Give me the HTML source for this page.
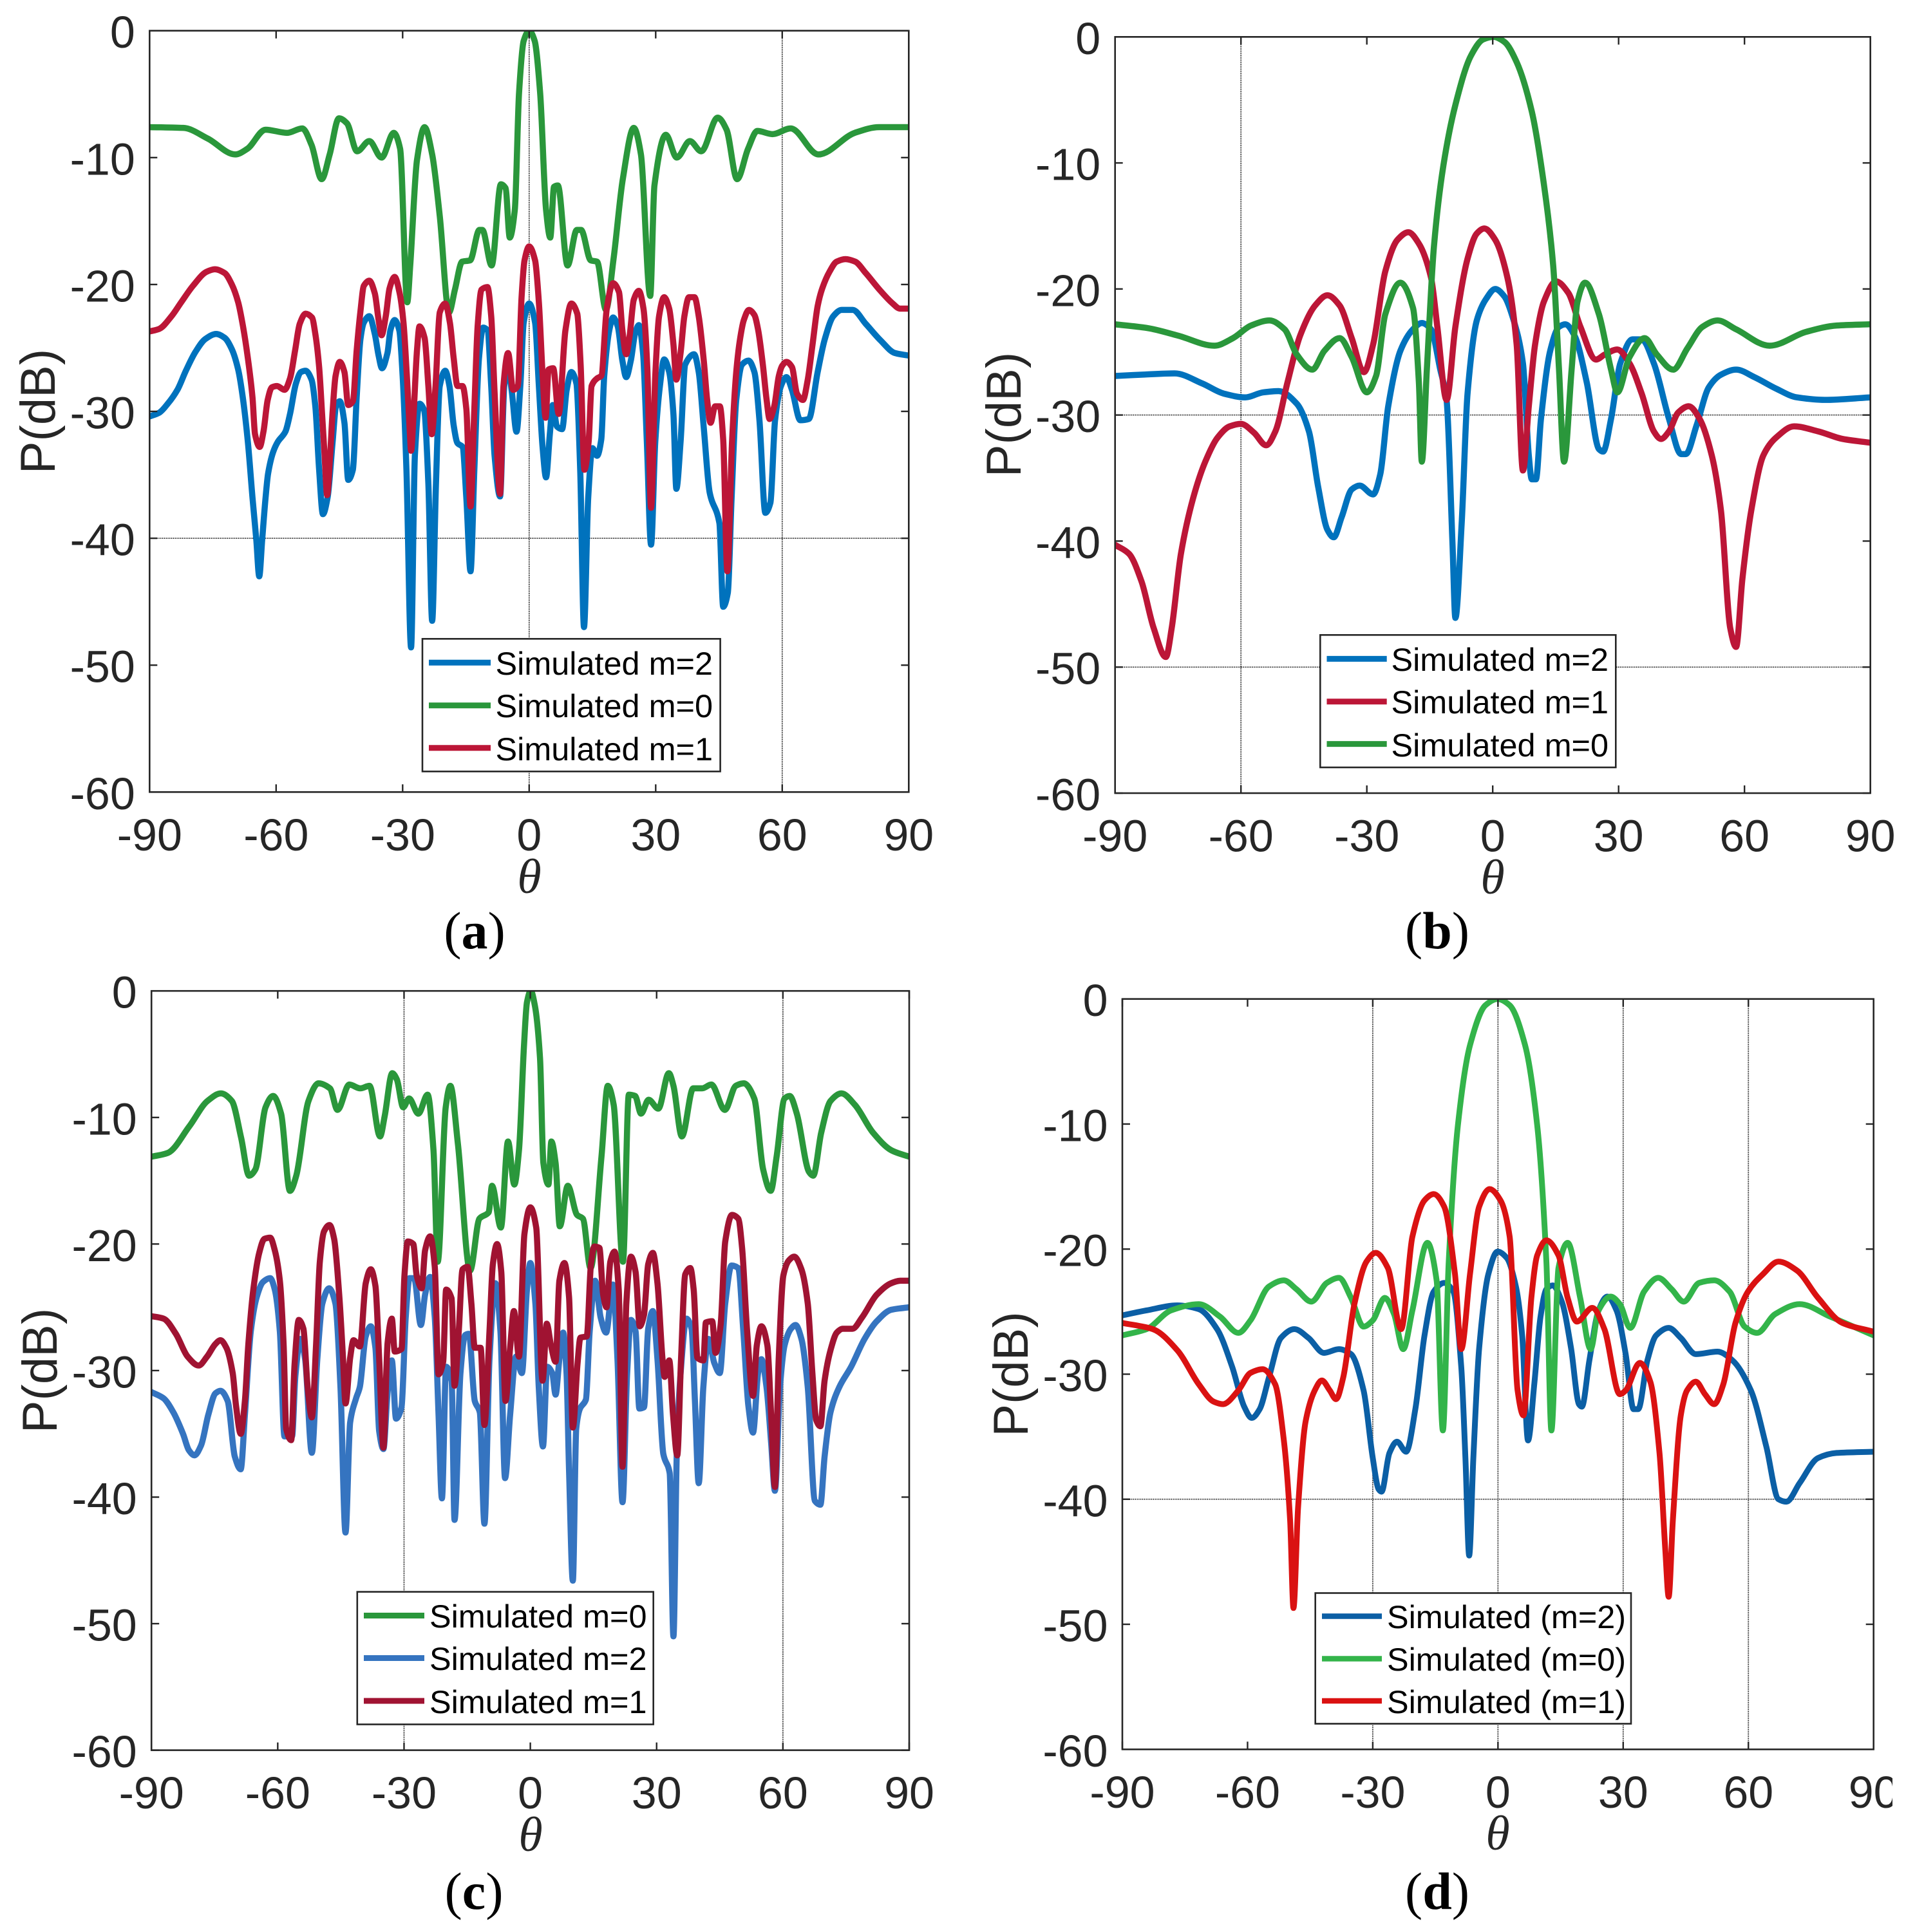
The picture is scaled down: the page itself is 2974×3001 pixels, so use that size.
<!DOCTYPE html>
<html lang="en">
<head>
<meta charset="utf-8">
<title>Radiation patterns (a)–(d)</title>
<style>
html,body{margin:0;padding:0;background:#fff;}
svg{display:block;}
.tick{font-family:"Liberation Sans",Arial,sans-serif;font-size:70px;fill:#262626;}
.ylab{font-family:"Liberation Sans",Arial,sans-serif;font-size:76px;fill:#262626;}
.xlab{font-family:"Liberation Serif",serif;font-style:italic;font-size:76px;fill:#262626;}
.cap{font-family:"Liberation Serif",serif;font-size:82px;fill:#000;}
.cap tspan{font-weight:bold;}
.leg{font-family:"Liberation Sans",Arial,sans-serif;font-size:50.4px;fill:#000;}
.frame{fill:none;stroke:#262626;stroke-width:2.6;}
.lbox{fill:#fff;stroke:#262626;stroke-width:2.6;}
.s{fill:none;stroke-width:9.5;stroke-linejoin:round;stroke-linecap:round;}
#panel-d .s{stroke-width:9;}
</style>
</head>
<body>
<svg id="figure" xmlns="http://www.w3.org/2000/svg" width="2974" height="3001" viewBox="0 0 2974 3001">
<rect x="0" y="0" width="2974" height="3001" fill="#fff"/>
<defs>
<clipPath id="clip-a"><rect x="232.3" y="47.7" width="1179" height="1182.6"/></clipPath>
<clipPath id="clip-b"><rect x="1731.7" y="57.3" width="1173" height="1174.7"/></clipPath>
<clipPath id="clip-c"><rect x="235.2" y="1539.2" width="1176.8" height="1179.4"/></clipPath>
<clipPath id="clip-d"><rect x="1743" y="1551.7" width="1166.7" height="1165.6"/></clipPath>
</defs>

<g id="panel-a">
  <g id="grid-a"></g>
  <g clip-path="url(#clip-a)">
    <path id="line-a2" class="s" stroke="#0072BD"/>
    <path id="line-a0" class="s" stroke="#2A973B"/>
    <path id="line-a1" class="s" stroke="#BC1637"/>
  </g>
  <g id="ticks-a"></g>
  <rect class="frame" x="232.3" y="47.7" width="1179" height="1182.6"/>
  <text class="ylab" transform="translate(85 639) rotate(-90)" text-anchor="middle">P(dB)</text>
  <text class="xlab" x="822" y="1387" text-anchor="middle">θ</text>
  <text class="cap" x="737" y="1473" text-anchor="middle">(<tspan>a</tspan>)</text>
  <g>
    <rect class="lbox" x="656" y="992.3" width="462.6" height="206"/>
    <line x1="666" x2="762" y1="1029.3" y2="1029.3" stroke="#0072BD" stroke-width="9"/>
    <text class="leg" x="769.5" y="1048">Simulated m=2</text>
    <line x1="666" x2="762" y1="1095.7" y2="1095.7" stroke="#2A973B" stroke-width="9"/>
    <text class="leg" x="769.5" y="1114">Simulated m=0</text>
    <line x1="666" x2="762" y1="1161.7" y2="1161.7" stroke="#BC1637" stroke-width="9"/>
    <text class="leg" x="769.5" y="1181">Simulated m=1</text>
  </g>
</g>

<g id="panel-b">
  <g id="grid-b"></g>
  <g clip-path="url(#clip-b)">
    <path id="line-b2" class="s" stroke="#0072BD"/>
    <path id="line-b1" class="s" stroke="#BC1637"/>
    <path id="line-b0" class="s" stroke="#2A973B"/>
  </g>
  <g id="ticks-b"></g>
  <rect class="frame" x="1731.7" y="57.3" width="1173" height="1174.7"/>
  <text class="ylab" transform="translate(1585 644) rotate(-90)" text-anchor="middle">P(dB)</text>
  <text class="xlab" x="2318" y="1388" text-anchor="middle">θ</text>
  <text class="cap" x="2232" y="1473" text-anchor="middle">(<tspan>b</tspan>)</text>
  <g>
    <rect class="lbox" x="2050.3" y="986.3" width="459" height="205.7"/>
    <line x1="2060.5" x2="2153.7" y1="1023.4" y2="1023.4" stroke="#0072BD" stroke-width="9"/>
    <text class="leg" x="2160.5" y="1042">Simulated m=2</text>
    <line x1="2060.5" x2="2153.7" y1="1089.8" y2="1089.8" stroke="#BC1637" stroke-width="9"/>
    <text class="leg" x="2160.5" y="1108">Simulated m=1</text>
    <line x1="2060.5" x2="2153.7" y1="1155.6" y2="1155.6" stroke="#2A973B" stroke-width="9"/>
    <text class="leg" x="2160.5" y="1175">Simulated m=0</text>
  </g>
</g>

<g id="panel-c">
  <g id="grid-c"></g>
  <g clip-path="url(#clip-c)">
    <path id="line-c0" class="s" stroke="#2A973B"/>
    <path id="line-c2" class="s" stroke="#3574C0"/>
    <path id="line-c1" class="s" stroke="#A01332"/>
  </g>
  <g id="ticks-c"></g>
  <rect class="frame" x="235.2" y="1539.2" width="1176.8" height="1179.4"/>
  <text class="ylab" transform="translate(88 2129) rotate(-90)" text-anchor="middle">P(dB)</text>
  <text class="xlab" x="824" y="2875" text-anchor="middle">θ</text>
  <text class="cap" x="736" y="2965" text-anchor="middle">(<tspan>c</tspan>)</text>
  <g>
    <rect class="lbox" x="554.8" y="2472.6" width="459.9" height="205.9"/>
    <line x1="565" x2="659" y1="2509.5" y2="2509.5" stroke="#2A973B" stroke-width="9"/>
    <text class="leg" x="667" y="2528">Simulated m=0</text>
    <line x1="565" x2="659" y1="2575.5" y2="2575.5" stroke="#3574C0" stroke-width="9"/>
    <text class="leg" x="667" y="2594">Simulated m=2</text>
    <line x1="565" x2="659" y1="2642" y2="2642" stroke="#A01332" stroke-width="9"/>
    <text class="leg" x="667" y="2661">Simulated m=1</text>
  </g>
</g>

<g id="panel-d">
  <g id="grid-d"></g>
  <g clip-path="url(#clip-d)">
    <path id="line-d2" class="s" stroke="#0B5FA5"/>
    <path id="line-d0" class="s" stroke="#33B44A"/>
    <path id="line-d1" class="s" stroke="#DA1212"/>
  </g>
  <g id="ticks-d"></g>
  <rect class="frame" x="1743" y="1551.7" width="1166.7" height="1165.6"/>
  <text class="ylab" transform="translate(1596 2134.5) rotate(-90)" text-anchor="middle">P(dB)</text>
  <text class="xlab" x="2326" y="2873" text-anchor="middle">θ</text>
  <text class="cap" x="2232" y="2965" text-anchor="middle">(<tspan>d</tspan>)</text>
  <g>
    <rect class="lbox" x="2042.7" y="2474.5" width="490.3" height="203"/>
    <line x1="2053" x2="2146" y1="2510.5" y2="2510.5" stroke="#0B5FA5" stroke-width="8.5"/>
    <text class="leg" x="2154" y="2529">Simulated (m=2)</text>
    <line x1="2053" x2="2146" y1="2576.5" y2="2576.5" stroke="#33B44A" stroke-width="8.5"/>
    <text class="leg" x="2154" y="2595">Simulated (m=0)</text>
    <line x1="2053" x2="2146" y1="2642" y2="2642" stroke="#DA1212" stroke-width="8.5"/>
    <text class="leg" x="2154" y="2661">Simulated (m=1)</text>
  </g>
</g>
<rect id="crop-mask" x="2939" y="2740" width="35" height="261" fill="#fff"/>
</svg>

<script>
// ---- shared tick labels ----
const xTicks = [-90, -60, -30, 0, 30, 60, 90];
const yTicks = [0, -10, -20, -30, -40, -50, -60];

// ---- panel (a) ----
const thetaA2 = [-90,-87.7,-85.7,-83.4,-81.4,-79.1,-76.8,-74.2,-72.2,-70.5,-69,-67.9,-66.7,-65.6,-64.7,-64,-63.3,-62.5,-61.9,-60.7,-59.6,-57.8,-56.7,-55.3,-54.1,-53,-51.6,-50.7,-49.8,-48.9,-47.8,-46.6,-45.8,-44.9,-43.8,-42.9,-41.8,-40.9,-40,-39.2,-37.9,-36.6,-35.7,-34.9,-33.6,-32.9,-31.9,-30.8,-30,-29.1,-28,-27.1,-26,-24.9,-23.9,-23,-22.1,-21.2,-19.9,-18.9,-17.9,-17,-15.8,-14.9,-13.9,-13,-11.9,-10.9,-9.9,-9,-8.2,-6.9,-5.9,-5,-4.1,-3,-2.1,-1.3,0,1.4,2.3,3.2,4,4.9,5.6,6.6,7.8,8.9,10,11.2,12.1,13,14,15,16.1,17.1,17.8,19,19.9,21,22.1,23,24.1,25.1,26,27,27.9,28.9,29.9,31,32,33.2,34.2,34.9,35.9,37,39.1,40.2,41.4,42.8,45.1,46,47.1,48,49.1,50.5,52,53.4,54.6,56,57.2,58.3,59.7,61,62.3,64.3,66.3,68.4,70.1,72.1,74.1,76.7,79.8,83.3,86.7,90];
const powerA2 = [-30.4,-30.1,-29.4,-28.3,-26.8,-25.3,-24.3,-23.9,-24.2,-25.1,-26.7,-28.9,-32.4,-36.8,-40.1,-43,-40.1,-36.8,-34.9,-33.2,-32.4,-31.6,-30.2,-27.8,-26.9,-26.8,-27.5,-29.6,-34.6,-38.1,-36.8,-32.4,-29.6,-29.2,-30.9,-35.4,-34.6,-28.9,-24.3,-23,-22.5,-23.9,-25.6,-26.6,-25.4,-23.6,-22.8,-23.6,-27.2,-34.6,-48.6,-33.5,-29.4,-29.9,-35.7,-46.5,-35.7,-28,-26.8,-28,-31.1,-32.5,-32.8,-36.8,-42.6,-34.6,-25.8,-23.4,-23.6,-28,-33.5,-36.7,-28,-26.5,-28.5,-31.6,-28,-23,-21.5,-23,-28,-32.9,-35.2,-31.8,-29.5,-31.2,-31.4,-28.3,-26.9,-27.8,-34.6,-47,-36.8,-32.9,-33.5,-32.2,-27.2,-23.6,-22.6,-23.3,-26,-27.3,-26,-23.9,-23.2,-25.4,-32.4,-40.5,-32.4,-28,-25.9,-26.9,-30.2,-36.1,-32.4,-26.3,-25.5,-26.9,-31.3,-36.4,-38.8,-45.4,-44.3,-36.8,-29.1,-26.3,-26,-26.9,-30.7,-38,-37.2,-30.7,-28,-27.3,-28.3,-30.7,-30.6,-26.9,-24.3,-22.5,-22,-22,-23.1,-24.4,-25.4,-25.6];
const thetaA0 = [-90,-82,-76.2,-69.7,-66.8,-62.5,-57.4,-53.8,-51.6,-49.2,-47.3,-45.1,-43.2,-40.8,-37.9,-35,-32.1,-30.6,-28.9,-28.2,-26.6,-24.8,-23,-21.2,-19,-17.6,-15.9,-14,-11.8,-11.1,-8.9,-6.7,-5.6,-4.6,-3.4,-2.4,-1.3,0,1.3,2.6,4,5,5.9,6.8,9.1,11.3,12.3,14.6,16.1,18.2,20,22.2,24.8,26.5,28.7,29.7,32.4,35,38.1,40.8,44.7,46.8,49.3,51.9,54.1,57.7,62,68.6,77.2,83,90];
const powerA0 = [-7.6,-7.66,-8.5,-9.75,-9.3,-7.8,-8.05,-7.7,-9,-11.7,-9.75,-6.9,-7.3,-9.5,-8.7,-10,-8.05,-9.3,-21.4,-18.5,-10.2,-7.6,-9.75,-14.6,-22.2,-20.4,-18.2,-18.1,-15.7,-15.7,-18.5,-12.1,-12.4,-16.3,-14.1,-4.9,-0.8,0,-0.8,-4.9,-14.1,-16.3,-12.3,-12.2,-18.5,-15.7,-15.7,-18.1,-18.2,-22,-18,-11.7,-7.66,-9.75,-20.9,-12.2,-8.2,-10,-8.7,-9.5,-6.85,-7.8,-11.7,-9.3,-7.9,-8.15,-7.7,-9.75,-8.05,-7.6,-7.6];
const thetaA1 = [-90,-87.7,-84.8,-82.5,-79.7,-76.5,-74.5,-72.2,-70.5,-69,-67.9,-66.7,-65.6,-65,-63.9,-63,-62,-61,-59.8,-58,-56.7,-55.5,-54.4,-53,-51.5,-50.7,-49.8,-49.1,-48.5,-47.9,-47.2,-46.6,-45.9,-44.9,-43.8,-42.9,-41.8,-40.9,-40,-39.2,-37.9,-36.6,-35.7,-35,-34,-33.1,-31.9,-30.7,-29.8,-29,-28.3,-28,-27.4,-26.6,-26,-24.8,-23.9,-23.1,-22.2,-21.2,-19.9,-18.8,-17.9,-17,-15.8,-14.9,-13.9,-13,-12.2,-11.3,-9.9,-9,-8.2,-6.9,-6.1,-5,-3.8,-2.7,-1.8,-1.1,0,1.4,2.3,3.2,3.9,4.6,5.7,7,8.6,10,11.4,12.2,13.1,14.1,14.8,16.1,17.1,18.4,19.9,21.3,22.1,23,23.8,24.8,26,27.1,28,28.9,29.9,30.8,32,33.2,34.2,34.9,35.9,36.8,37.9,39.2,40.2,41.4,42.2,43,44.1,45.2,46,47,48.1,49.1,50,50.9,52.1,53.4,54.3,55.4,56.3,57,58.1,59.2,60,61,62.3,63.5,64.9,66,67.2,68.4,69.5,71.2,72.9,75,77.3,79.8,83.3,86.2,87.9,90];
const powerA1 = [-23.7,-23.5,-22.5,-21.4,-20.1,-19,-18.8,-19.1,-20,-21.4,-23.2,-25.8,-28.9,-31.8,-32.8,-31.6,-29.1,-28.1,-28,-28.3,-27.4,-25.2,-23.1,-22.3,-22.6,-23.9,-26.5,-30.2,-33.5,-36.6,-33.5,-30,-27.2,-26.1,-26.9,-29.5,-29.2,-25.2,-22.1,-20.1,-19.7,-20.7,-22.8,-24,-22.5,-20.3,-19.4,-20.7,-23,-27.2,-31.6,-33.1,-30.2,-25.2,-23.3,-24.2,-28,-31.8,-28,-22.2,-21.5,-23,-25.8,-28,-28,-29.8,-37.5,-29.8,-23.2,-20.4,-20.2,-22.5,-28.5,-36.5,-28,-25.4,-28.3,-28,-21,-18.1,-17,-18.1,-21.4,-27.2,-30.5,-26.7,-26.6,-30.2,-23.6,-21.5,-22.3,-26.3,-34.6,-32.4,-28,-27.4,-27.2,-21.9,-19.9,-20.6,-23.6,-25.5,-24.1,-21.2,-20.5,-21.9,-26.5,-37.6,-27.2,-22.5,-21,-21.9,-24.7,-27.5,-25.4,-22.5,-21,-21,-22.5,-26,-29.1,-30.9,-29.6,-29.6,-32.2,-42.6,-32.4,-26.9,-24.3,-22.8,-22,-22.4,-23.6,-26.3,-29.1,-30.6,-29.6,-27.2,-26.4,-26.1,-26.5,-28.6,-29.1,-27.6,-24.7,-21.7,-20.3,-19,-18.2,-18,-18.2,-19.1,-20.5,-21.5,-21.9,-21.9];

// ---- panel (b) ----
const thetaB2 = [-90,-83.7,-75.8,-69.2,-64.1,-59,-54.7,-51,-46.7,-43.8,-41.6,-39.4,-37.9,-36,-33.6,-31.7,-28.5,-26.8,-24.9,-22,-19,-16.9,-14.7,-12.5,-11,-9.6,-8.9,-7.4,-6,-3.8,-1.6,0.6,2.8,5,7.2,8.6,9.3,10.3,11.5,13.7,15.8,17.3,19.5,22.4,25.3,26.3,28.2,30.4,33.3,35.5,38.4,42,44.9,46,48.6,51.5,54.4,58,62.4,67.5,72.5,79.1,90];
const powerB2 = [-26.9,-26.8,-26.7,-27.5,-28.3,-28.6,-28.2,-28.1,-29.1,-31.3,-35.7,-39.1,-39.7,-38.1,-35.9,-35.6,-36.3,-34.7,-29.3,-24.9,-23.2,-22.7,-23.2,-26.4,-28.8,-40.1,-46.1,-38.6,-28.3,-22.5,-20.8,-20,-20.6,-22.5,-25.9,-33.2,-35.1,-35.1,-30.3,-24.9,-23,-22.8,-23.7,-27.4,-32.7,-32.9,-30.3,-25.9,-24,-24,-25.9,-30.3,-33.1,-33.1,-30.8,-27.8,-26.8,-26.4,-27,-27.9,-28.6,-28.8,-28.6];
const thetaB1 = [-90,-86.7,-83.7,-80.8,-77.9,-76.5,-74.3,-71.4,-68.5,-65.6,-62.7,-60,-56.9,-54,-51.8,-48.9,-45.9,-42.3,-39.4,-36.5,-33.6,-30.7,-28.5,-25.6,-22.7,-20.1,-17.6,-14.7,-13.2,-11,-8.9,-6,-3.8,-2,0.6,3.5,5.7,7.2,8.6,10.1,12.2,15.1,18,20.9,24.6,26.7,29.7,32.6,35.5,38.4,40.1,42,44.2,46.7,49.3,52.2,54.4,56.6,58,59.5,61.6,64.5,67.5,71.8,77.6,83.4,90];
const powerB1 = [-40.3,-41,-43.2,-46.9,-49.2,-46.9,-41,-36.6,-33.7,-31.8,-30.9,-30.7,-31.4,-32.4,-31.3,-27.4,-23.7,-21.3,-20.5,-21.3,-23.9,-26.6,-24.4,-18.6,-16.1,-15.5,-16.4,-19.1,-23,-28.8,-23,-17.6,-15.6,-15.2,-16.1,-19.1,-24.4,-34.4,-29.3,-24.4,-21,-19.4,-20.3,-23,-25.6,-25.2,-24.8,-25.9,-28.3,-31.3,-31.9,-31.3,-29.8,-29.3,-30.3,-33.2,-37.6,-46.9,-48.4,-43,-37.6,-33.2,-31.8,-30.9,-31.3,-31.9,-32.2];
const thetaB0 = [-90,-82.3,-75,-66.3,-61.9,-57.6,-53.2,-49.6,-46.7,-43,-40.1,-36.5,-33.6,-30,-27.8,-25.6,-22,-19,-17.6,-16.9,-15.7,-14,-11.8,-8.9,-5.2,-2.3,0.2,2.8,5.7,9.3,12.2,14.4,15.8,17,18.8,20.2,22,25.3,28.2,29.7,32.6,36.2,39.1,43,46.4,50,53.6,58,66,74.7,82,90];
const powerB0 = [-22.8,-23.1,-23.7,-24.5,-23.9,-22.9,-22.5,-23.2,-25.2,-26.4,-24.9,-23.9,-25.4,-28.2,-26.9,-22,-19.5,-21.5,-27.4,-33.7,-26.4,-16.6,-10.3,-5.4,-1.5,-0.2,0,-0.4,-2,-5.9,-11.7,-18.1,-26.4,-33.7,-26.4,-21,-19.5,-22,-26.4,-28.2,-25.4,-23.9,-25.2,-26.4,-24.7,-23,-22.5,-23.2,-24.5,-23.4,-22.9,-22.8];

// ---- panel (c) ----
const thetaC0 = [-90,-86.1,-81,-76.7,-73.5,-70.9,-68.7,-66.8,-65.3,-62.9,-61.1,-59.2,-57.1,-55.6,-52.7,-50.3,-47.6,-45.8,-43,-40.4,-38.2,-35.7,-34.6,-32.8,-31.7,-30.2,-28.8,-26.6,-24.4,-23,-22,-20.1,-19,-17.2,-14.3,-12.1,-9.9,-9.1,-7,-5.3,-3.8,-2.7,-1.5,-0.8,0.1,1.1,2.3,3.1,4.3,5,6,7,8.9,11.1,12.5,14.3,16.9,18.4,19.8,22,23.4,24.9,26.3,28.1,30.4,32.9,34,36,38.7,40.8,43,46.2,48.8,50.7,53.2,55.3,57.1,58.5,60.4,61.6,63.3,66.2,67.2,69.1,71.3,73.9,77.1,81.4,85.8,90];
const powerC0 = [-13.1,-12.8,-10.7,-8.7,-8.1,-8.7,-11.6,-14.6,-14.1,-9.2,-8.3,-9.7,-15.8,-14.6,-8.7,-7.3,-7.7,-9.4,-7.4,-7.7,-7.5,-11.5,-9.9,-6.5,-7,-9.2,-8.5,-9.7,-8.2,-12.6,-21.4,-9.2,-7.5,-12.1,-22.1,-18,-17.5,-15.4,-18.7,-11.9,-15.3,-12.6,-4.3,-0.9,0,-1.2,-5.3,-13.6,-15.3,-11.9,-13.6,-18.6,-15.4,-17.7,-18,-21.9,-13.1,-7.5,-9,-21.4,-8.2,-8.3,-9.7,-8.6,-9.3,-6.5,-7.5,-11.5,-7.7,-7.7,-7.4,-9.4,-7.5,-7.3,-8.5,-14.1,-15.8,-13.1,-8.5,-8.3,-9.7,-14.3,-14.6,-11.2,-8.7,-8.1,-9,-11.2,-12.6,-13.1];
const thetaC2 = [-90,-87.1,-84.8,-82.5,-81.1,-79.8,-78.2,-76.5,-74.8,-73.6,-71.9,-70.2,-68.8,-67.8,-66.4,-65,-63.5,-61.8,-60.7,-59.5,-58.4,-56.6,-55.8,-54.6,-53.5,-51.9,-50.6,-49.4,-47.8,-46.3,-45.1,-43.9,-42.8,-41.4,-40.5,-39.1,-37.9,-36.8,-35.9,-34.9,-33.9,-32.9,-31.9,-30.6,-29.6,-28.7,-27.6,-26,-25,-23.8,-22.7,-21.8,-21,-20,-18.7,-18,-16.6,-15.5,-14.6,-13.2,-12,-10.9,-9.7,-8.3,-7.1,-6,-4.8,-3.4,-2,-0.8,0,1.2,2,3,4,5.2,6,6.9,7.8,8.6,9.2,10.1,10.9,11.8,13.2,14.1,15.4,16.7,18,19.6,20.7,21.9,23,23.9,25,25.9,27,28,29.1,30.2,31.6,33.1,34,34.8,35.7,37.1,38.3,39.1,40,41.1,42.3,43.7,45,46.3,47.8,49.4,50.6,51.8,52.9,54.1,54.9,56.1,57.2,58.1,59.3,60.4,61.9,63,64.4,65.9,67.6,68.9,69.9,71.3,73.4,76.2,79.4,82.3,85.7,90];
const powerC2 = [-31.7,-32.2,-33.3,-35,-36.3,-36.7,-35.9,-33.5,-31.8,-31.6,-32.4,-36.8,-37.8,-33.5,-26.9,-24.2,-23,-22.7,-23.6,-26.9,-35.2,-35.2,-30.4,-27.5,-29.1,-36.5,-29.1,-24.7,-23.5,-24.7,-31.3,-42.8,-34.1,-32.2,-31.3,-27.3,-26.5,-28.2,-34.8,-36.2,-31.7,-29.2,-33.8,-32.9,-25.8,-22.7,-22.7,-26.4,-24,-22.6,-25.8,-33.5,-40.1,-29.7,-30.8,-41.8,-30.2,-27.2,-27.1,-32.4,-33.3,-42.1,-29.1,-23.1,-26.9,-38.5,-33.5,-28.9,-30.2,-23.6,-21.5,-24.7,-31.3,-36,-29.7,-30.2,-31.9,-29.1,-27,-30.2,-37.9,-46.6,-34.6,-33,-32.3,-26.9,-22.9,-25.8,-27,-23.2,-29.1,-40.4,-30.2,-26,-26.9,-33,-32.9,-26.7,-25.3,-29.1,-36.6,-38.1,-51,-36.4,-30.2,-25.9,-26.7,-32.4,-38.9,-31.3,-27.5,-29.4,-30.2,-24.7,-21.7,-21.9,-26.9,-32.8,-34.9,-30.2,-29.1,-31.3,-35.7,-39.5,-31.3,-28,-26.7,-26.4,-27.5,-31.3,-40.3,-40.6,-36.8,-33.3,-31.3,-29.7,-27.5,-26.1,-25.2,-25];
const thetaC1 = [-90,-87.1,-84.2,-81.4,-78.8,-76.8,-74.8,-73.6,-72.2,-70.7,-69.9,-68.8,-67.8,-67,-65.8,-64.4,-63.2,-61.8,-60.7,-59.5,-58.6,-58,-56.8,-56,-55,-53.9,-52.9,-51.9,-50.9,-50,-49,-47.7,-46.6,-45.4,-44.5,-43.9,-42.8,-42,-40.5,-39.1,-37.9,-36.8,-35.9,-34.9,-33.9,-32.9,-32.2,-30.6,-29.9,-29.1,-27.8,-27,-25.8,-25,-23.8,-22.7,-21.8,-20.7,-20,-18.7,-18,-17,-16.1,-14.9,-14,-13.2,-11.8,-10.9,-9.7,-8.9,-7.9,-6.9,-5.9,-4.8,-3.9,-2.7,-1.4,0,1.4,2.9,3.9,4.9,6,6.9,8.1,9.2,10.1,11.2,11.9,13.4,14.4,15.2,16.4,17.3,18.1,19,20,21,21.9,22.8,23.9,25,26,27,28,29.1,30.2,31.4,31.9,33,33.9,34.9,35.8,36.8,38,38.8,39.7,41.1,41.7,43.2,44,45.2,46.3,47.9,49.4,50.3,51.5,52.9,53.8,54.9,56.3,57.2,58.1,59,60.1,61.4,62.7,64.4,65.9,67,67.9,68.9,69.9,71.3,72.8,74.2,76.5,78.8,82.3,85.7,88,90];
const powerC1 = [-25.7,-25.9,-27.1,-28.9,-29.6,-28.9,-27.9,-27.6,-28.2,-30.2,-32.8,-35,-32.4,-28,-23.6,-20.7,-19.6,-19.5,-20.5,-22.9,-28,-34.6,-35.5,-29.5,-26,-26.7,-31.3,-33.7,-28,-21.4,-19,-18.5,-19.6,-24,-29,-32.6,-29,-27.6,-28.1,-23.1,-22,-23.3,-29.1,-36.1,-27.8,-25.9,-28.5,-28.3,-22.5,-19.8,-20,-22.5,-23.5,-20.5,-19.4,-21.8,-30.3,-29.3,-23.6,-24.3,-31.2,-26.9,-22,-21.8,-24.7,-28.2,-28.2,-34.3,-26.9,-21.6,-20,-22.2,-32.4,-28.2,-25.3,-28.9,-19.2,-17.1,-18.7,-30.8,-26.3,-28,-29.3,-22.9,-21.5,-24.2,-34.5,-29.5,-27.4,-27.3,-21.6,-20.2,-20.3,-24,-25,-21.4,-20.6,-23.6,-37.6,-24.7,-21,-22.2,-26.5,-25.6,-21.6,-20.7,-23.1,-29.1,-30.5,-29.2,-33.5,-36.7,-29.1,-22.4,-21.9,-23.6,-29,-29.2,-26.2,-26.1,-28.6,-26.4,-19.8,-17.7,-18,-20.3,-26.9,-32,-28,-26.5,-28,-33.5,-39.2,-29.1,-22.5,-21.3,-21,-22,-24.7,-30.2,-33.9,-34.4,-30.8,-28.4,-27,-26.7,-26.7,-25.8,-24,-23.1,-22.9,-22.9];

// ---- panel (d) ----
const thetaD2 = [-90,-84.2,-76.8,-71.7,-67.3,-63.7,-60.8,-59,-57.1,-54.9,-52,-48.8,-45.4,-41.7,-38.1,-35.2,-32.2,-30,-28.6,-27.9,-26,-24.2,-22,-19.8,-17.6,-15.4,-12.9,-10.7,-8.8,-7.8,-6.9,-5.9,-4.5,-2.3,-0.1,2.1,4.3,5.8,7.2,8.7,10.2,11.6,13.1,15.3,17.5,19.4,20.1,21.9,24.1,26.2,28.4,30.6,32.5,33.6,35.8,37.9,40.9,43.8,47.4,52.6,56.2,60.6,64.3,67.2,69.1,72.3,76.7,81.1,90];
const powerD2 = [-25.3,-24.9,-24.5,-24.8,-26.4,-29.4,-32.6,-33.5,-32.8,-30.3,-27.1,-26.4,-27.1,-28.3,-28,-28.4,-31.3,-36.7,-39.2,-39.4,-36.3,-35.4,-36.2,-32.8,-26.9,-23.4,-22.7,-23.4,-29.4,-36.7,-44.5,-36.7,-27.9,-22,-20.2,-20.7,-23,-26.9,-35.3,-30.8,-25.4,-23.2,-22.9,-24.2,-27.9,-32.4,-32.6,-28.9,-24.9,-23.8,-24.9,-28.4,-32.8,-32.8,-28.9,-26.9,-26.3,-27.1,-28.4,-28.2,-28.9,-31.3,-35.8,-40,-40.2,-38.7,-36.7,-36.3,-36.2];
const thetaD0 = [-90,-84.2,-78.3,-71.7,-66.6,-62.2,-59.3,-54.9,-51.3,-48.3,-44.7,-41,-38.1,-35.2,-32.2,-30,-27.1,-24.9,-22.7,-20.5,-16.9,-14.7,-13.2,-11.8,-9.6,-6.7,-3,-0.1,2.8,6.5,9.4,11.6,12.8,14.5,16.7,19.7,22.2,24.1,27,29.2,31.7,35,38.4,41.6,44.5,48.2,51.8,55.5,59.1,62.1,66.4,72.3,79.6,90];
const powerD0 = [-26.9,-26.4,-24.9,-24.4,-25.4,-26.7,-25.7,-23,-22.5,-23.2,-24.2,-22.7,-22.3,-23.9,-26.2,-25.7,-23.9,-25.2,-28,-24.9,-19.5,-22.5,-34.5,-21,-10.1,-3.7,-0.5,0,-0.5,-3.7,-10.1,-21,-34.5,-21.5,-19.5,-23.9,-28,-24.9,-23.8,-24.4,-26.3,-23.4,-22.3,-23.2,-24.2,-22.7,-22.5,-23.4,-26.2,-26.7,-25.2,-24.4,-25.4,-26.9];
const thetaD1 = [-90,-82.7,-76.8,-71.7,-68.1,-65.9,-62.2,-59.3,-56.4,-53.4,-51.3,-49.8,-49,-47.9,-46.1,-43.9,-42.2,-40.3,-38.8,-37.1,-34.4,-31.5,-29.3,-26.4,-23.2,-20.5,-17.6,-15.4,-12.9,-10.3,-8.8,-6.7,-4.5,-2,0.6,2.8,4.7,6.1,8,9.4,11.6,14.5,16.7,18.9,22.6,25.5,29.2,30.6,34,36.5,38.7,40.1,40.9,41.9,43.8,45.3,47.4,49.6,51.8,54,56.9,59.9,63.5,67.2,71.6,76.7,82.5,90];
const powerD1 = [-25.9,-26.4,-28.1,-30.8,-32.2,-32.4,-31.3,-29.9,-29.6,-30.8,-35.3,-41.7,-48.7,-40.7,-33.8,-31.3,-30.5,-31.3,-32,-30.3,-24.4,-21,-20.3,-21.5,-26.4,-19,-16.1,-15.6,-16.6,-22,-28,-22,-16.6,-15.2,-16.1,-19,-31.3,-33.3,-23.9,-20.5,-19.3,-20.5,-23.9,-25.8,-24.7,-26.4,-31.6,-31.3,-29.1,-30.6,-36.3,-44.1,-47.8,-41.7,-33.3,-31.3,-30.6,-31.6,-32.4,-30.8,-25.9,-23.4,-22,-21,-21.7,-23.9,-25.9,-26.6];

// ---- gridline positions in data units ----
const gridXA = [0, 60];
const gridYA = [-40];
const gridXB = [-60];
const gridYB = [-30, -50];
const gridXC = [-30, 60];
const gridYC = [];
const gridXD = [-30, 0, 30, 60];
const gridYD = [-40];

const SVGNS = 'http://www.w3.org/2000/svg';
const X_MIN = -90, X_MAX = 90, Y_MIN = -60, Y_MAX = 0;

function xAxis(box, v) { return box.l + (v - X_MIN) / (X_MAX - X_MIN) * (box.r - box.l); }
function yAxis(box, v) { return box.t + (Y_MAX - v) / (Y_MAX - Y_MIN) * (box.b - box.t); }

// Monotone cubic path through the data points: no overshoot, rounded extremes.
function plotLine(id, box, thetas, powers) {
  const xs = thetas.map(function (t) { return xAxis(box, t); });
  const ys = powers.map(function (p) { return yAxis(box, p); });
  const n = xs.length;
  const slope = [];
  for (let i = 0; i < n - 1; i++) {
    slope.push((ys[i + 1] - ys[i]) / Math.max(xs[i + 1] - xs[i], 1e-6));
  }
  const m = [slope[0]];
  for (let i = 1; i < n - 1; i++) {
    if (slope[i - 1] * slope[i] <= 0) {
      m.push(0);
    } else {
      m.push(2 * slope[i - 1] * slope[i] / (slope[i - 1] + slope[i]));
    }
  }
  m.push(slope[n - 2]);
  let d = 'M' + xs[0].toFixed(2) + ' ' + ys[0].toFixed(2);
  for (let i = 0; i < n - 1; i++) {
    const h = (xs[i + 1] - xs[i]) / 3;
    d += 'C' + (xs[i] + h).toFixed(2) + ' ' + (ys[i] + m[i] * h).toFixed(2) + ' ' +
         (xs[i + 1] - h).toFixed(2) + ' ' + (ys[i + 1] - m[i + 1] * h).toFixed(2) + ' ' +
         xs[i + 1].toFixed(2) + ' ' + ys[i + 1].toFixed(2);
  }
  document.getElementById(id).setAttribute('d', d);
}

function drawGrid(key, box, gx, gy) {
  const g = document.getElementById('grid-' + key);
  gx.forEach(function (v) {
    const el = document.createElementNS(SVGNS, 'line');
    
    
    el.setAttribute('x1', xAxis(box, v));
    el.setAttribute('x2', xAxis(box, v));
    el.setAttribute('y1', box.t);
    el.setAttribute('y2', box.b);
    el.setAttribute('stroke', '#111');
    el.setAttribute('stroke-width', '1.8');
    el.setAttribute('stroke-dasharray', '1.4 1.4');
    g.appendChild(el);
  });
  gy.forEach(function (v) {
    const el = document.createElementNS(SVGNS, 'line');
    
    
    el.setAttribute('x1', box.l);
    el.setAttribute('x2', box.r);
    el.setAttribute('y1', yAxis(box, v));
    el.setAttribute('y2', yAxis(box, v));
    el.setAttribute('stroke', '#111');
    el.setAttribute('stroke-width', '1.8');
    el.setAttribute('stroke-dasharray', '1.4 1.4');
    g.appendChild(el);
  });
}

function drawTicks(key, box) {
  const g = document.getElementById('ticks-' + key);
  const LEN = 12;
  xTicks.forEach(function (v) {
    const x = xAxis(box, v);
    [[box.b, box.b - LEN], [box.t, box.t + LEN]].forEach(function (p) {
      const el = document.createElementNS(SVGNS, 'line');
      
      
      el.setAttribute('x1', x);
      el.setAttribute('x2', x);
      el.setAttribute('y1', p[0]);
      el.setAttribute('y2', p[1]);
      el.setAttribute('stroke', '#262626');
      el.setAttribute('stroke-width', '2.4');
      g.appendChild(el);
    });
    const lab = document.createElementNS(SVGNS, 'text');
    
    
    lab.setAttribute('class', 'tick');
    lab.setAttribute('x', x);
    lab.setAttribute('y', box.b + 90.5);
    lab.setAttribute('text-anchor', 'middle');
    lab.textContent = String(v);
    g.appendChild(lab);
  });
  yTicks.forEach(function (v) {
    const y = yAxis(box, v);
    [[box.l, box.l + LEN], [box.r, box.r - LEN]].forEach(function (p) {
      const el = document.createElementNS(SVGNS, 'line');
      
      
      el.setAttribute('x1', p[0]);
      el.setAttribute('x2', p[1]);
      el.setAttribute('y1', y);
      el.setAttribute('y2', y);
      el.setAttribute('stroke', '#262626');
      el.setAttribute('stroke-width', '2.4');
      g.appendChild(el);
    });
    const lab = document.createElementNS(SVGNS, 'text');
    
    
    lab.setAttribute('class', 'tick');
    lab.setAttribute('x', box.l - 22.5);
    lab.setAttribute('y', y + 26.5);
    lab.setAttribute('text-anchor', 'end');
    lab.textContent = String(v);
    g.appendChild(lab);
  });
}

const boxA = { l: 232.3, r: 1411.3, t: 47.7, b: 1230.3 };
const boxB = { l: 1731.7, r: 2904.7, t: 57.3, b: 1232 };
const boxC = { l: 235.2, r: 1412, t: 1539.2, b: 2718.6 };
const boxD = { l: 1743, r: 2909.7, t: 1551.7, b: 2717.3 };

drawGrid('a', boxA, gridXA, gridYA);
drawGrid('b', boxB, gridXB, gridYB);
drawGrid('c', boxC, gridXC, gridYC);
drawGrid('d', boxD, gridXD, gridYD);

drawTicks('a', boxA);
drawTicks('b', boxB);
drawTicks('c', boxC);
drawTicks('d', boxD);

plotLine('line-a2', boxA, thetaA2, powerA2);
plotLine('line-a0', boxA, thetaA0, powerA0);
plotLine('line-a1', boxA, thetaA1, powerA1);
plotLine('line-b2', boxB, thetaB2, powerB2);
plotLine('line-b1', boxB, thetaB1, powerB1);
plotLine('line-b0', boxB, thetaB0, powerB0);
plotLine('line-c0', boxC, thetaC0, powerC0);
plotLine('line-c2', boxC, thetaC2, powerC2);
plotLine('line-c1', boxC, thetaC1, powerC1);
plotLine('line-d2', boxD, thetaD2, powerD2);
plotLine('line-d0', boxD, thetaD0, powerD0);
plotLine('line-d1', boxD, thetaD1, powerD1);
</script>
</body>
</html>
